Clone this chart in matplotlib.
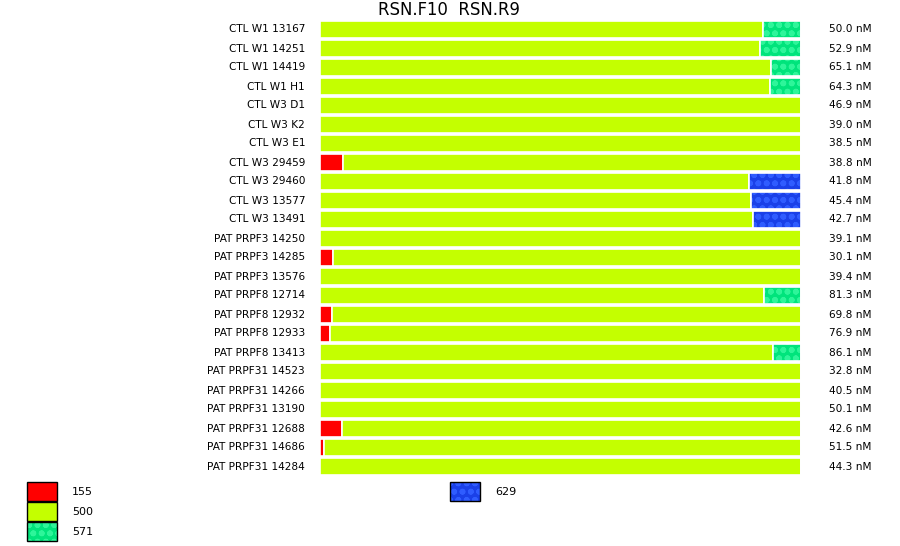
import numpy as np
import matplotlib
matplotlib.use("Agg")
from matplotlib import pyplot as plt
from matplotlib.patches import Rectangle

# Samples, top to bottom
samples = ["CTL W1 13167", "CTL W1 14251", "CTL W1 14419", "CTL W1 H1",
           "CTL W3 D1", "CTL W3 K2", "CTL W3 E1", "CTL W3 29459",
           "CTL W3 29460", "CTL W3 13577", "CTL W3 13491",
           "PAT PRPF3 14250", "PAT PRPF3 14285", "PAT PRPF3 13576",
           "PAT PRPF8 12714", "PAT PRPF8 12932", "PAT PRPF8 12933", "PAT PRPF8 13413",
           "PAT PRPF31 14523", "PAT PRPF31 14266", "PAT PRPF31 13190",
           "PAT PRPF31 12688", "PAT PRPF31 14686", "PAT PRPF31 14284"]

# Fraction (%) of each fragment size per sample
frag_155 = [0, 0, 0, 0, 0, 0, 0, 4.8, 0, 0, 0, 0, 2.7, 0,
            0, 2.5, 2.1, 0, 0, 0, 0, 4.6, 0.9, 0]
frag_500 = [92.1, 91.5, 93.8, 93.6, 100, 100, 100, 95.2, 89.2, 89.6, 90.0,
            100, 97.3, 100, 92.3, 97.5, 97.9, 94.2, 100, 100, 100, 95.4, 99.1, 100]
frag_571 = [7.9, 8.5, 6.2, 6.4, 0, 0, 0, 0, 0, 0, 0, 0, 0, 0,
            7.7, 0, 0, 5.8, 0, 0, 0, 0, 0, 0]
frag_629 = [0, 0, 0, 0, 0, 0, 0, 0, 10.8, 10.4, 10.0, 0, 0, 0,
            0, 0, 0, 0, 0, 0, 0, 0, 0, 0]

conc = [50.0, 52.9, 65.1, 64.3, 46.9, 39.0, 38.5, 38.8, 41.8, 45.4, 42.7,
        39.1, 30.1, 39.4, 81.3, 69.8, 76.9, 86.1, 32.8, 40.5, 50.1, 42.6, 51.5, 44.3]

primers = "RSN.F10  RSN.R9"

# fill colour, dot colour (None = plain)
styles = {
    "155": ("#ff0000", None),
    "500": ("#c4ff00", None),
    "571": ("#00e47c", "#2ef59a"),
    "629": ("#1a40e8", "#2f5cff"),
}

plt.rcParams["hatch.linewidth"] = 1.8

fig = plt.figure(figsize=(9, 5.46), dpi=100)
ax = fig.add_axes([320 / 900, 1 - 476 / 546, 481 / 900, 456 / 546])

y = np.arange(len(samples))
h = 0.93
left = np.zeros(len(samples))
for key, vals in zip(["155", "500", "571", "629"], [frag_155, frag_500, frag_571, frag_629]):
    vals = np.array(vals)
    fill, dots = styles[key]
    if dots is None:
        ax.barh(y, vals, left=left, height=h, color=fill, edgecolor="white", linewidth=1.2)
    else:
        ax.barh(y, vals, left=left, height=h, color=fill, edgecolor=dots, hatch="oo", linewidth=0)
        ax.barh(y, vals, left=left, height=h, fill=False, edgecolor="white", linewidth=1.2)
    left += vals

ax.set_xlim(0, 100)
ax.set_ylim(len(samples) - 0.5, -0.5)
ax.axis("off")

fs = 7.6
for i, (s, c) in enumerate(zip(samples, conc)):
    ax.text(-3.1, i, s, ha="right", va="center", fontsize=fs)
    ax.text(105.8, i, f"{c:.1f} nM", ha="left", va="center", fontsize=fs)

fig.text(449 / 900, 1 - 10 / 546, primers, ha="center", va="center", fontsize=11.9)

# legend boxes
def legend_box(x, ytop, key):
    fill, dots = styles[key]
    r = Rectangle((x / 900, 1 - (ytop + 19) / 546), 30 / 900, 19 / 546,
                  transform=fig.transFigure, facecolor=fill,
                  edgecolor=dots if dots else "black", hatch="oo" if dots else None,
                  linewidth=0 if dots else 1.0)
    fig.patches.append(r)
    if dots:
        fig.patches.append(Rectangle((x / 900, 1 - (ytop + 19) / 546), 30 / 900, 19 / 546,
                                     transform=fig.transFigure, fill=False,
                                     edgecolor="black", linewidth=1.0))
    fig.text((x + 45) / 900, 1 - (ytop + 10) / 546, key, ha="left", va="center", fontsize=8)

legend_box(27, 482, "155")
legend_box(27, 502, "500")
legend_box(27, 522, "571")
legend_box(450, 482, "629")

fig.savefig("out.png", dpi=100)
